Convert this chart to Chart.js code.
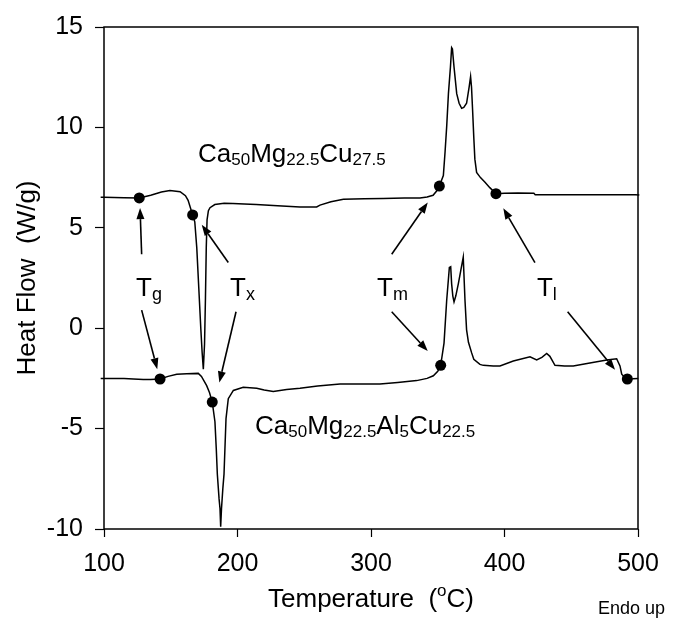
<!DOCTYPE html>
<html>
<head>
<meta charset="utf-8">
<script src="https://cdn.jsdelivr.net/npm/chart.js@4"></script>
<style>
  body { margin: 0; background: #fff; }
  canvas { display: block; }
</style>
</head>
<body>
<canvas id="dscChart" width="688" height="626"></canvas>
<script>
// Ca50Mg22.5Cu27.5 trace (temperature, heat flow)
const upperT = [97.5, 100, 115, 126.4, 135, 143, 149.4, 157, 161, 163, 166.4, 168, 169.5, 171, 172.5, 173.5, 174.4, 175.3, 176, 176.6, 177.2, 178.2, 179.4, 183, 190, 196.6, 205, 214, 230, 246.8, 259.3, 261.8, 270, 279.3, 295, 309, 325, 336.7, 342, 346.5, 349, 351.2, 354.2, 355.5, 356.7, 358, 359.5, 360.4, 361, 362.2, 364.2, 366, 367.9, 369.5, 371.6, 373.5, 374.6, 375.3, 376.1, 377, 377.8, 379.1, 382, 385.4, 389, 393.6, 400, 410, 422, 423, 440, 460, 480, 498, 501, 504];
const upperH = [6.52, 6.52, 6.50, 6.49, 6.62, 6.78, 6.86, 6.80, 6.60, 6.37, 5.64, 5.30, 4.0, 2.0, 0.0, -1.2, -2.04, -0.8, 1.5, 4.0, 5.4, 5.85, 6.0, 6.16, 6.22, 6.21, 6.18, 6.16, 6.10, 6.04, 6.04, 6.13, 6.30, 6.42, 6.45, 6.46, 6.48, 6.49, 6.53, 6.62, 6.82, 7.08, 7.6, 8.8, 10.05, 11.68, 13.0, 13.97, 13.9, 13.0, 11.68, 11.2, 10.95, 11.0, 11.2, 12.0, 12.53, 12.0, 10.87, 9.5, 8.42, 7.76, 7.5, 7.27, 7.0, 6.70, 6.72, 6.73, 6.72, 6.65, 6.65, 6.65, 6.65, 6.65, 6.63, 6.55];

// Ca50Mg22.5Al5Cu22.5 trace
const lowerT = [97.5, 100, 115, 122, 129.4, 135, 142, 148, 154.5, 162, 170.6, 173, 176.9, 179, 181.1, 183.1, 184.1, 184.9, 186.2, 186.9, 187.4, 188, 189, 189.9, 191.4, 193.1, 196.9, 204.3, 214.4, 220, 226.8, 236.8, 246.8, 260, 276.8, 306.7, 320, 334.2, 342, 346.7, 350, 352.2, 354.7, 356.7, 358.7, 359.7, 360.4, 361.3, 362.2, 363.5, 365.4, 367.2, 369.1, 370.4, 371.6, 373, 375.4, 377, 381.6, 384.1, 391.6, 396.6, 406.6, 419.1, 424.1, 428, 431.6, 434, 437.8, 445, 451.5, 465, 476.6, 484, 486.5, 487.8, 490, 492, 496, 500.2, 504.5];
const lowerH = [-2.50, -2.50, -2.51, -2.53, -2.56, -2.55, -2.53, -2.40, -2.29, -2.27, -2.25, -2.40, -2.86, -3.2, -3.68, -4.66, -6.0, -7.27, -8.5, -8.99, -9.89, -9.0, -8.0, -7.27, -4.5, -3.51, -3.10, -2.94, -2.99, -3.08, -3.15, -3.05, -2.99, -2.88, -2.78, -2.78, -2.70, -2.61, -2.50, -2.37, -2.15, -1.85, -0.74, 1.39, 3.02, 3.06, 2.21, 1.6, 1.31, 1.6, 2.21, 2.86, 3.54, 1.39, -0.08, -0.7, -1.23, -1.55, -1.80, -1.85, -1.88, -1.88, -1.63, -1.42, -1.58, -1.45, -1.26, -1.40, -1.85, -1.88, -1.88, -1.72, -1.58, -1.52, -1.88, -2.29, -2.45, -2.53, -2.52, -2.50, -2.45];

// Tg, Tx, Tm, Tl marked on each trace
const upperPtsT = [126.4, 166.4, 351.2, 393.6];
const upperPtsH = [6.49, 5.64, 7.08, 6.70];
const lowerPtsT = [142, 181.1, 352.2, 492];
const lowerPtsH = [-2.53, -3.68, -1.85, -2.53];

const xTicks = [100, 200, 300, 400, 500];
const yTicks = [-10, -5, 0, 5, 10, 15];

// annotation text: letter, subscript, temperature, heat flow (left / baseline)
const tLabels = [['T', 'g', 124.0, 1.62], ['T', 'x', 194.4, 1.62], ['T', 'm', 304.5, 1.62], ['T', 'l', 424.3, 1.62]];
// arrows: from (T, H) to (T, H)
const arrows = [
  [128.2, 3.68, 127.0, 5.98], [128.2, 0.90, 139.9, -2.04],
  [193.1, 3.27, 173.2, 5.15], [198.9, 0.82, 186.4, -2.70],
  [315.5, 3.68, 342.5, 6.26], [315.5, 0.82, 342.5, -1.14],
  [422.8, 3.27, 399.1, 5.97], [447.3, 0.82, 482.8, -2.07]
];
const formulaUpper = [['Ca', 0], ['50', 1], ['Mg', 0], ['22.5', 1], ['Cu', 0], ['27.5', 1]];
const formulaLower = [['Ca', 0], ['50', 1], ['Mg', 0], ['22.5', 1], ['Al', 0], ['5', 1], ['Cu', 0], ['22.5', 1]];
const formulaPos = [[170.4, 8.28], [213.1, -5.25]];

const FONT = 'Arial, "Liberation Sans", sans-serif';

function toXY(ts, hs) {
  return ts.map((t, i) => ({ x: t, y: hs[i] }));
}

function drawRich(ctx, parts, x, y, big, small, shift) {
  ctx.textAlign = 'left';
  ctx.textBaseline = 'alphabetic';
  let cx = x;
  for (const [txt, sub] of parts) {
    ctx.font = (sub ? small : big) + 'px ' + FONT;
    ctx.fillText(txt, cx, sub ? y + shift : y);
    cx += ctx.measureText(txt).width;
  }
  return cx;
}

const decor = {
  id: 'decor',
  afterDatasetsDraw(chart) {
    const ctx = chart.ctx;
    const xs = chart.scales.x, ys = chart.scales.y;
    const a = chart.chartArea;
    ctx.save();
    ctx.strokeStyle = '#000';
    ctx.fillStyle = '#000';
    ctx.lineWidth = 1.5;
    ctx.strokeRect(a.left, a.top, a.right - a.left, a.bottom - a.top);

    // arrows
    for (const [t0, h0, t1, h1] of arrows) {
      const x0 = xs.getPixelForValue(t0), y0 = ys.getPixelForValue(h0);
      const x1 = xs.getPixelForValue(t1), y1 = ys.getPixelForValue(h1);
      const ang = Math.atan2(y1 - y0, x1 - x0);
      const len = 11, half = 4;
      const bx = x1 - len * Math.cos(ang), by = y1 - len * Math.sin(ang);
      ctx.lineWidth = 1.6;
      ctx.beginPath();
      ctx.moveTo(x0, y0);
      ctx.lineTo(bx, by);
      ctx.stroke();
      ctx.beginPath();
      ctx.moveTo(x1, y1);
      ctx.lineTo(bx + half * Math.sin(ang), by - half * Math.cos(ang));
      ctx.lineTo(bx - half * Math.sin(ang), by + half * Math.cos(ang));
      ctx.closePath();
      ctx.fill();
    }

    // T labels
    for (const [m, s, t, h] of tLabels) {
      drawRich(ctx, [[m, 0], [s, 1]], xs.getPixelForValue(t), ys.getPixelForValue(h), 26, 18, 4);
    }
    // composition labels
    drawRich(ctx, formulaUpper, xs.getPixelForValue(formulaPos[0][0]), ys.getPixelForValue(formulaPos[0][1]), 26, 17, 3);
    drawRich(ctx, formulaLower, xs.getPixelForValue(formulaPos[1][0]), ys.getPixelForValue(formulaPos[1][1]), 26, 17, 3);

    // axis titles
    const midX = (a.left + a.right) / 2;
    ctx.font = '26px ' + FONT;
    const w1 = ctx.measureText('Temperature  (').width;
    ctx.font = '17px ' + FONT;
    const w2 = ctx.measureText('o').width;
    ctx.font = '26px ' + FONT;
    const w3 = ctx.measureText('C)').width;
    let sx = midX - (w1 + w2 + w3) / 2;
    sx = drawRich(ctx, [['Temperature  (', 0], ['o', 1]], sx, 607, 26, 17, -11);
    drawRich(ctx, [['C)', 0]], sx, 607, 26, 17, 0);

    ctx.save();
    ctx.translate(35, 278);
    ctx.rotate(-Math.PI / 2);
    ctx.font = '26px ' + FONT;
    ctx.textAlign = 'center';
    ctx.textBaseline = 'alphabetic';
    ctx.fillText('Heat Flow  (W/g)', 0, 0);
    ctx.restore();

    ctx.font = '18px ' + FONT;
    ctx.textAlign = 'left';
    ctx.fillText('Endo up', 598, 614);
    ctx.restore();
  }
};

new Chart(document.getElementById('dscChart'), {
  type: 'line',
  data: {
    datasets: [
      { data: toXY(upperT, upperH), borderColor: '#000', borderWidth: 1.5, pointRadius: 0, tension: 0, clip: { left: 8, right: 8, top: 0, bottom: 0 } },
      { data: toXY(lowerT, lowerH), borderColor: '#000', borderWidth: 1.5, pointRadius: 0, tension: 0, clip: { left: 8, right: 8, top: 0, bottom: 0 } },
      { data: toXY(upperPtsT.concat(lowerPtsT), upperPtsH.concat(lowerPtsH)), showLine: false, pointRadius: 5.5, pointBackgroundColor: '#000', pointBorderColor: '#000', pointBorderWidth: 0 }
    ]
  },
  options: {
    responsive: false,
    devicePixelRatio: 1,
    animation: false,
    layout: { padding: { top: 19, right: 50, left: 0, bottom: 0 } },
    plugins: { legend: { display: false }, tooltip: { enabled: false } },
    scales: {
      x: {
        type: 'linear', min: 100, max: 500,
        afterBuildTicks: s => { s.ticks = xTicks.map(v => ({ value: v })); },
        afterFit: s => { s.height = 97; },
        border: { display: false },
        grid: { drawOnChartArea: false, drawTicks: true, tickLength: 8, tickColor: '#000', tickWidth: 1.2 },
        ticks: { color: '#000', font: { family: FONT, size: 25 }, padding: 12, maxRotation: 0 }
      },
      y: {
        type: 'linear', min: -10, max: 15,
        afterBuildTicks: s => { s.ticks = yTicks.map(v => ({ value: v })); },
        afterFit: s => { s.width = 104; },
        border: { display: false },
        grid: { drawOnChartArea: false, drawTicks: true, tickLength: 9, tickColor: '#000', tickWidth: 1.2 },
        ticks: { color: '#000', font: { family: FONT, size: 25 }, padding: 12 }
      }
    }
  },
  plugins: [decor]
});
</script>
</body>
</html>
